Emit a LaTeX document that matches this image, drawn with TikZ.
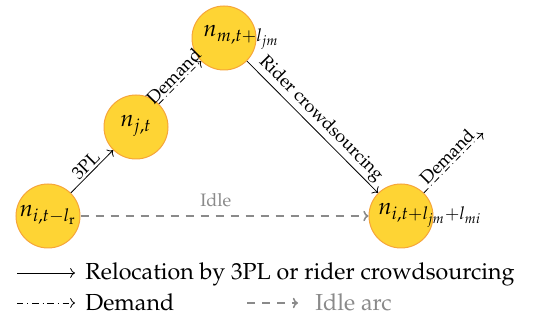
\documentclass[tikz,border=0pt]{standalone}
\usepackage[T1]{fontenc}
\usepackage{mathpazo}
\usetikzlibrary{arrows.meta}
\definecolor{nodefill}{HTML}{FED434}
\definecolor{nodeborder}{HTML}{F6A53A}
\definecolor{idlegray}{HTML}{8A8A8A}
\newcommand{\bigtxt}{\fontsize{11.6}{14}\selectfont}
\begin{document}
\begin{tikzpicture}[x=0.5pt,y=-0.5pt,
  state/.style={circle,draw=nodeborder,fill=nodefill,line width=0.5pt,minimum size=32pt,inner sep=0pt},
  lab/.style={inner sep=0pt,font=\bigtxt},
  rel/.style={draw=black,line width=0.4pt,-{To[length=2.4pt,width=5pt]}},
  dem/.style={draw=black,line width=0.4pt,dash pattern=on 3.2pt off 2pt on 0.4pt off 2pt,-{To[length=2.4pt,width=5pt]}},
  idle/.style={draw=idlegray,line width=0.8pt,dash pattern=on 4pt off 3.5pt,-{To[length=2.6pt,width=5.2pt]}},
  elab/.style={font=\small,sloped,above,inner sep=1pt}]
\useasboundingbox (0,0) rectangle (536,320);
\node[state] (i1) at (48,216) {};
\node[state] (j) at (136,127) {};
\node[state] (m) at (224,38) {};
\node[state] (i2) at (401,216) {};
\node[lab] (ti1) at (48,215) {$n_{i,t-l_{\mathrm{r}}}$};
\node[lab] (tj) at (136,126) {$n_{j,t}$};
\node[lab,anchor=west] (tm) at (203,37) {$n_{m,t+l_{jm}}$};
\node[lab,anchor=west] (ti2) at (378,215) {$n_{i,t+l_{jm}+l_{mi}}$};
\coordinate (dend) at (483,133);
\draw[rel] (i1) -- node[elab] {3PL} (j);
\draw[dem] (j) -- node[elab] {Demand} (m);
\draw[rel] (m) -- node[elab] {Rider crowdsourcing} (i2);
\draw[dem] (i2) -- node[elab] {Demand} (dend);
\draw[idle] (i1) -- node[pos=0.47,above=1pt,font=\small,text=idlegray] (il) {Idle} (i2);
% legend
\coordinate (l1a) at (17,273); \coordinate (l1b) at (75,273);
\coordinate (l2a) at (17,303); \coordinate (l2b) at (75,303);
\coordinate (l3a) at (247,303); \coordinate (l3b) at (298,303);
\draw[rel] (l1a) -- (l1b);
\draw[dem] (l2a) -- (l2b);
\draw[idle] (l3a) -- (l3b);
\node[font=\bigtxt,anchor=base west,inner sep=0pt] (t1) at (85,280) {Relocation by 3PL or rider crowdsourcing};
\node[font=\bigtxt,anchor=base west,inner sep=0pt] (t2) at (85,311) {Demand};
\node[font=\bigtxt,anchor=base west,inner sep=0pt,text=idlegray] (t3) at (315,311) {Idle arc};
\end{tikzpicture}
\end{document}
